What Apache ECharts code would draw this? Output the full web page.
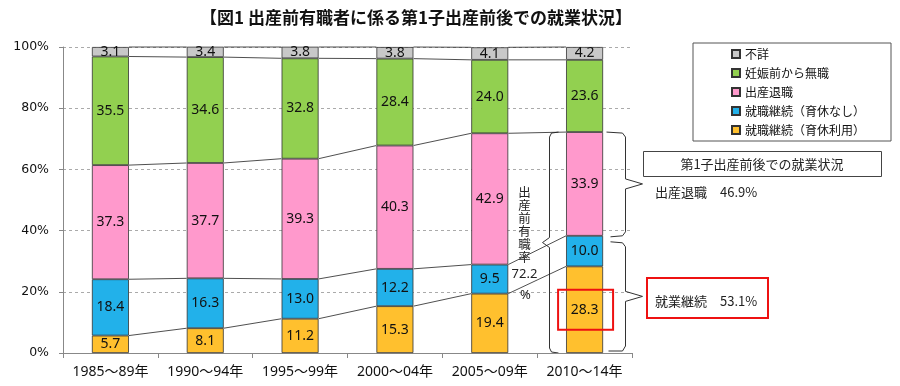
<!DOCTYPE html>
<html><head><meta charset="utf-8">
<script src="https://cdn.jsdelivr.net/npm/echarts@6/dist/echarts.min.js"></script>
<style>html,body{margin:0;padding:0;background:#fff}#c{width:900px;height:386px}</style>
</head><body><div id="c"></div>
<script>
// ---- data ----
const categories = ['1985～89年','1990～94年','1995～99年','2000～04年','2005～09年','2010～14年'];
const unknown            = [3.1, 3.4, 3.8, 3.8, 4.1, 4.2];
const joblessBefore      = [35.5, 34.6, 32.8, 28.4, 24.0, 23.6];
const quitAtBirth        = [37.3, 37.7, 39.3, 40.3, 42.9, 33.9];
const continuedNoLeave   = [18.4, 16.3, 13.0, 12.2, 9.5, 10.0];
const continuedWithLeave = [5.7, 8.1, 11.2, 15.3, 19.4, 28.3];
const yTicks = [0, 20, 40, 60, 80, 100];
const legendNames = ['不詳','妊娠前から無職','出産退職','就職継続（育休なし）','就職継続（育休利用）'];
const titleText = '【図1 出産前有職者に係る第1子出産前後での就業状況】';
const boxTitle = '第1子出産前後での就業状況';
const quitText = '出産退職　46.9%';
const contText = '就業継続　53.1%';
const employedLabel = '出産前有職率';
const employedRate = '72.2';
const employedUnit = '%';

// ---- styles ----
const CJK = '"Noto Sans CJK JP", sans-serif';
const NUM = '"Noto Sans", "Noto Sans CJK JP", sans-serif';
const BAR_RATIO = 0.39;
const colors = {
  '就職継続（育休利用）': '#FFC02E',
  '就職継続（育休なし）': '#22B1EA',
  '出産退職': '#FF99CC',
  '妊娠前から無職': '#92D050',
  '不詳': '#C8C8C8'
};
const bottomUp = [
  ['就職継続（育休利用）', continuedWithLeave],
  ['就職継続（育休なし）', continuedNoLeave],
  ['出産退職', quitAtBirth],
  ['妊娠前から無職', joblessBefore],
  ['不詳', unknown]
];

const chart = echarts.init(document.getElementById('c'), null, {renderer: 'canvas'});

const barSeries = bottomUp.map(([name, arr]) => ({
  name, type: 'bar', stack: 'total', data: arr,
  barWidth: (BAR_RATIO * 100) + '%',
  itemStyle: {color: colors[name], borderColor: '#333', borderWidth: 0.8},
  label: {show: true, position: 'inside', color: '#111', fontSize: 14, fontFamily: NUM,
          formatter: p => p.value.toFixed(1)},
  emphasis: {disabled: true}, z: 3
}));

const connectorData = [];
for (let i = 0; i < categories.length - 1; i++) {
  let c1 = 0, c2 = 0;
  for (const [, arr] of bottomUp) {
    c1 += arr[i]; c2 += arr[i + 1];
    connectorData.push([i, Math.min(c1, 100), Math.min(c2, 100)]);
  }
}

const connectorSeries = {
  type: 'custom', name: 'connector', silent: true, z: 2,
  encode: {x: 0, y: 1},
  data: connectorData,
  renderItem(params, api) {
    const i = api.value(0);
    const p1 = api.coord([i, api.value(1)]);
    const p2 = api.coord([i + 1, api.value(2)]);
    const hw = api.size([1, 0])[0] * BAR_RATIO / 2;
    return {type: 'line', shape: {x1: p1[0] + hw, y1: p1[1], x2: p2[0] - hw, y2: p2[1]},
            style: {stroke: '#222', lineWidth: 0.8}};
  }
};

chart.setOption({
  animation: false,
  backgroundColor: '#fff',
  title: {text: titleText, left: 200, top: 9, padding: 0,
          textStyle: {fontFamily: CJK, fontSize: 17, fontWeight: 'bold', color: '#111'}},
  legend: {
    data: legendNames, orient: 'vertical', left: 693, top: 43, align: 'left',
    borderColor: '#555', borderWidth: 1, padding: [4, 26, 4, 38],
    itemWidth: 8, itemHeight: 8, itemGap: 5, icon: 'rect',
    textStyle: {fontFamily: CJK, fontSize: 12, color: '#111', lineHeight: 14},
    selectedMode: false
  },
  grid: {left: 63, right: 268, top: 47, bottom: 33, containLabel: false},
  xAxis: {
    type: 'category', data: categories,
    axisLine: {lineStyle: {color: '#888', width: 1}},
    axisTick: {show: true, length: 5, lineStyle: {color: '#888'}},
    axisLabel: {interval: 0, fontFamily: NUM, fontSize: 14, color: '#111', margin: 12},
    splitLine: {show: false}
  },
  yAxis: {
    type: 'value', min: yTicks[0], max: yTicks[yTicks.length - 1], interval: yTicks[1] - yTicks[0],
    axisLine: {show: true, lineStyle: {color: '#888', width: 1}},
    axisTick: {show: true, length: 4, lineStyle: {color: '#888'}},
    axisLabel: {formatter: '{value}%', fontFamily: '"DejaVu Sans", sans-serif', fontSize: 12.5, color: '#111', margin: 14},
    splitLine: {show: true, lineStyle: {color: '#aaa', type: [3, 3], width: 1}}
  },
  series: [...barSeries, connectorSeries]
});

// ---- annotations anchored to data ----
function drawAnnotations() {
  const P = (xi, v) => chart.convertToPixel({xAxisIndex: 0, yAxisIndex: 0}, [xi, v]);
  const last = categories.length - 1;
  const contTop = continuedWithLeave[last] + continuedNoLeave[last];
  const employedTop = contTop + quitAtBirth[last];
  const [cx, yTop] = P(last, employedTop);
  const yMid = P(last, contTop)[1];
  const yBot = P(last, 0)[1];
  const band = P(1, 0)[0] - P(0, 0)[0];
  const hw = band * BAR_RATIO / 2;
  const line = {stroke: '#333', lineWidth: 1, fill: null};
  const g = [];

  // left brace (pre-birth employment rate)
  const lx = Math.round(cx - hw - 17) + 0.5;
  const lm = (yTop + yBot) / 2;
  g.push({type: 'polyline', shape: {points: [[lx + 9, yTop], [lx + 2, yTop + 1], [lx, yTop + 5], [lx, lm - 5], [lx - 7, lm], [lx, lm + 5], [lx, yBot - 5], [lx + 2, yBot - 1], [lx + 9, yBot]]}, style: line, silent: true});
  g.push({type: 'text', style: {text: employedLabel.split('').join('\n'), x: lx - 25, y: lm - 57, align: 'center', verticalAlign: 'top', fontFamily: CJK, fontSize: 12.5, lineHeight: 13, fill: '#222'}, silent: true});
  g.push({type: 'text', style: {text: employedRate, x: lx - 25, y: lm + 32, align: 'center', verticalAlign: 'middle', fontFamily: NUM, fontSize: 13, fill: '#222'}, silent: true});
  g.push({type: 'text', style: {text: employedUnit, x: lx - 24, y: lm + 53, align: 'center', verticalAlign: 'middle', fontFamily: NUM, fontSize: 13, fill: '#222'}, silent: true});

  // right braces
  const rx = Math.round(cx + hw + 22) + 0.5;
  const m1 = (yTop + yMid) / 2;
  g.push({type: 'polyline', shape: {points: [[rx - 19, yTop], [rx - 3, yTop + 1], [rx, yTop + 5], [rx, m1 - 5], [rx + 17, m1], [rx, m1 + 5], [rx, yMid - 4], [rx - 3, yMid], [rx - 15, yMid + 1]]}, style: line, silent: true});
  const y2a = yMid + 6, y2b = yBot - 2;
  const m2 = (y2a + y2b) / 2;
  g.push({type: 'polyline', shape: {points: [[rx - 15, y2a], [rx - 3, y2a + 1], [rx, y2a + 5], [rx, m2 - 5], [rx + 17, m2], [rx, m2 + 5], [rx, y2b - 5], [rx - 3, y2b], [rx - 17, y2b]]}, style: line, silent: true});

  // box title + quit text
  g.push({type: 'rect', shape: {x: 643.5, y: Math.round(m1 - 33) + 0.5, width: 238, height: 25}, style: {stroke: '#444', lineWidth: 1, fill: '#fff'}, silent: true});
  g.push({type: 'text', style: {text: boxTitle, x: 762, y: Math.round(m1 - 33) + 13, align: 'center', verticalAlign: 'middle', fontFamily: CJK, fontSize: 13, fill: '#222'}, silent: true});
  g.push({type: 'text', style: {text: quitText, x: 655, y: m1 + 8, align: 'left', verticalAlign: 'middle', fontFamily: CJK, fontSize: 13, fill: '#222'}, silent: true});

  // red box with continued-work text
  g.push({type: 'rect', shape: {x: 647, y: Math.round(m2 - 18), width: 121, height: 40}, style: {stroke: '#EE1111', lineWidth: 2, fill: null}, silent: true});
  g.push({type: 'text', style: {text: contText, x: 655, y: m2 + 5, align: 'left', verticalAlign: 'middle', fontFamily: CJK, fontSize: 13, fill: '#222'}, silent: true});

  // red box around 28.3 label
  const oc = P(last, continuedWithLeave[last] / 2)[1];
  g.push({type: 'rect', shape: {x: cx - hw - 8, y: oc - 20, width: 2 * hw + 18, height: 40}, style: {stroke: '#EE1111', lineWidth: 2, fill: null}, silent: true, z: 10});

  chart.setOption({graphic: {elements: g}});
}
drawAnnotations();
</script>
</body></html>
